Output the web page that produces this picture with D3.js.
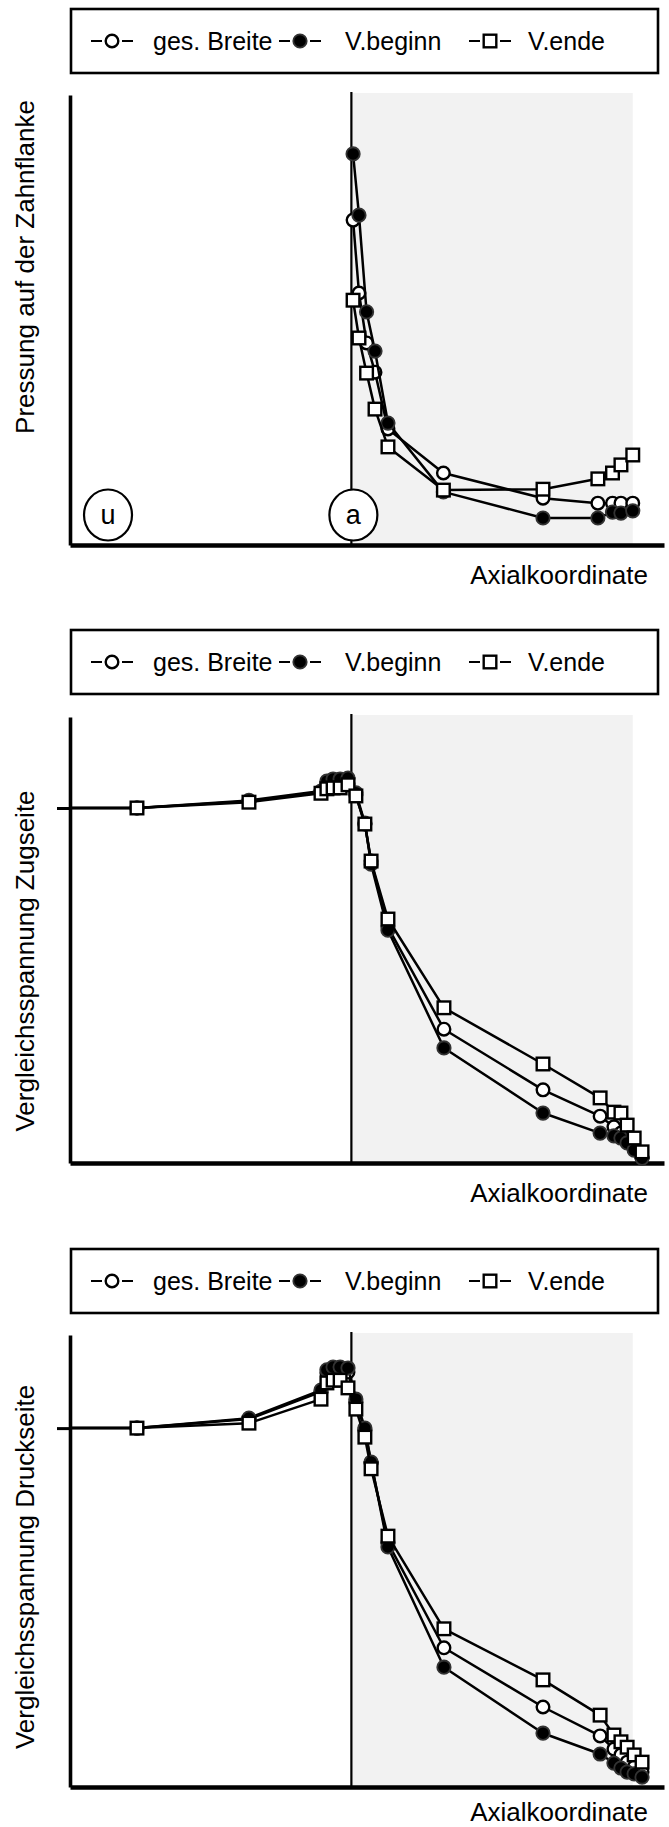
<!DOCTYPE html>
<html>
<head>
<meta charset="utf-8">
<script src="https://cdn.jsdelivr.net/npm/d3@7/dist/d3.min.js"></script>
<style>
  html, body { margin: 0; padding: 0; background: #fff; }
  svg { display: block; font-family: "Liberation Sans", Arial, Helvetica, sans-serif; }
</style>
</head>
<body>
<svg id="chart" width="669" height="1827"></svg>
<script>
// ---- data ---------------------------------------------------------------
const seriesNames = ["ges. Breite", "V.beginn", "V.ende"];
const yTitles = ["Pressung auf der Zahnflanke", "Vergleichsspannung Zugseite", "Vergleichsspannung Druckseite"];
const xTitle = "Axialkoordinate";

// axial coordinate: 0 = start of tooth ("a"), 1 = end of tooth
const axialDomain = [-1, 1.111];
const toothRange = [0, 1];
const markerU = -0.872;   // position of the "u" label
const markerA = 0;        // position of the "a" label

// contact pressure, nodes along the tooth width
const pressNodes = [0.006, 0.027, 0.054, 0.084, 0.13, 0.327, 0.681, 0.876, 0.928, 0.958, 1.0];
const pressGes    = [72.2, 56.0, 44.9, 38.4, 25.8, 16.0, 10.4, 9.3, 9.3, 9.3, 9.3];
const pressBeginn = [86.9, 73.3, 51.8, 43.1, 27.1, 11.8, 6.0, 6.0, 7.3, 7.1, 7.6];
const pressEnde   = [54.4, 46.0, 38.2, 30.2, 21.8, 12.2, 12.4, 14.7, 16.0, 17.8, 20.0];

// equivalent stress nodes (first node sits on the axis, no marker there)
const stressNodes = [-1, -0.762, -0.364, -0.108, -0.087, -0.065, -0.040, -0.012, 0.016, 0.048, 0.070,
                     0.130, 0.329, 0.681, 0.884, 0.933, 0.958, 0.980, 1.005, 1.033];
const zugGes    = [79.6, 79.6, 81.1, 83.2, 85.0, 85.3, 85.3, 85.0, 82.5, 76.0, 67.7, 52.9, 30.0, 16.4, 10.5, 8.1, 6.7, 5.2, 3.4, 1.3];
const zugBeginn = [79.6, 79.6, 81.3, 83.4, 85.6, 86.1, 86.1, 86.3, 83.0, 76.2, 67.0, 52.2, 25.8, 11.2, 6.7, 6.1, 5.6, 4.5, 2.9, 1.1];
const zugEnde   = [79.6, 79.6, 80.9, 82.9, 83.9, 84.1, 84.1, 84.8, 82.3, 76.0, 67.7, 54.7, 34.8, 22.2, 14.6, 11.4, 11.2, 8.5, 5.6, 2.5];

const druckGes    = [79.4, 79.4, 81.4, 87.4, 91.6, 92.3, 92.3, 91.8, 85.2, 79.0, 71.7, 54.0, 30.8, 17.7, 11.3, 8.4, 7.1, 5.5, 4.4, 3.3];
const druckBeginn = [79.4, 79.4, 81.6, 87.8, 92.3, 92.9, 92.9, 92.7, 85.8, 79.4, 71.9, 53.1, 26.5, 11.9, 7.3, 5.3, 4.2, 3.3, 2.9, 2.2];
const druckEnde   = [79.4, 79.4, 80.5, 85.8, 89.4, 90.0, 90.0, 88.3, 83.6, 77.4, 70.4, 55.5, 35.0, 23.7, 15.9, 11.5, 10.0, 8.8, 7.1, 5.5];

// nominal stress level marked on the stress axes
const zugRef = 79.6;
const druckRef = 79.4;

// ---- layout -------------------------------------------------------------
const plotLeft = 70, plotRight = 664;
const panelDefs = [
  { legendTop: 9,    top: 95,   bottom: 545,  titleY: 267,  xTitleY: 584,
    title: yTitles[0], nodes: pressNodes, values: [pressGes, pressBeginn, pressEnde], ref: null, labels: true },
  { legendTop: 630,  top: 717,  bottom: 1163, titleY: 961,  xTitleY: 1202,
    title: yTitles[1], nodes: stressNodes, values: [zugGes, zugBeginn, zugEnde], ref: zugRef, labels: false },
  { legendTop: 1249, top: 1335, bottom: 1787, titleY: 1567, xTitleY: 1821,
    title: yTitles[2], nodes: stressNodes, values: [druckGes, druckBeginn, druckEnde], ref: druckRef, labels: false }
];

const svg = d3.select("#chart");
const x = d3.scaleLinear().domain(axialDomain).range([plotLeft, plotRight]);

const markerR = 6.3, squareS = 12.6;

function drawMarker(sel, kind, cx, cy) {
  if (kind === 2) {
    sel.append("rect")
      .attr("x", cx - squareS / 2).attr("y", cy - squareS / 2)
      .attr("width", squareS).attr("height", squareS)
      .attr("fill", "#fff").attr("stroke", "#000").attr("stroke-width", 2.4);
  } else if (kind === 1) {
    sel.append("circle").attr("cx", cx).attr("cy", cy).attr("r", markerR + 0.4)
      .attr("fill", "#000").attr("stroke", "#333").attr("stroke-width", 1.8);
  } else {
    sel.append("circle").attr("cx", cx).attr("cy", cy).attr("r", markerR)
      .attr("fill", "#fff").attr("stroke", "#000").attr("stroke-width", 2.4);
  }
}

// legend item layout
const legendSymX = [112, 300, 490];
const legendTextX = [153, 345, 528];

panelDefs.forEach(p => {
  const g = svg.append("g");
  const y = d3.scaleLinear().domain([0, 100]).range([p.bottom, p.top]);

  // legend
  const lg = g.append("g");
  lg.append("rect")
    .attr("x", 71).attr("y", p.legendTop).attr("width", 587).attr("height", 64)
    .attr("fill", "#fff").attr("stroke", "#000").attr("stroke-width", 2.6);
  const ly = p.legendTop + 32;
  seriesNames.forEach((name, i) => {
    lg.append("line")
      .attr("x1", legendSymX[i] - 21).attr("x2", legendSymX[i] + 21)
      .attr("y1", ly).attr("y2", ly)
      .attr("stroke", "#000").attr("stroke-width", 2.2);
    // white gap around the marker
    lg.append("rect").attr("x", legendSymX[i] - 10).attr("y", ly - 3)
      .attr("width", 20).attr("height", 6).attr("fill", "#fff");
    drawMarker(lg, i, legendSymX[i], ly);
    lg.append("text")
      .attr("x", legendTextX[i]).attr("y", ly + 9)
      .attr("font-size", 25).attr("fill", "#000")
      .text(name);
  });

  // tooth region
  g.append("rect")
    .attr("x", x(toothRange[0])).attr("y", p.top - 2)
    .attr("width", x(toothRange[1]) - x(toothRange[0]))
    .attr("height", p.bottom - p.top + 2)
    .attr("fill", "#f2f2f2");
  g.append("line")
    .attr("x1", x(markerA)).attr("x2", x(markerA))
    .attr("y1", p.top - 3).attr("y2", p.bottom)
    .attr("stroke", "#000").attr("stroke-width", 2.2);

  // axes
  const yAxis = d3.axisLeft(y)
    .tickValues(p.ref === null ? [] : [p.ref])
    .tickSizeInner(13).tickSizeOuter(0)
    .tickFormat("");
  const ya = g.append("g").attr("transform", `translate(${plotLeft},0)`).call(yAxis);
  ya.select(".domain").attr("stroke", "#000").attr("stroke-width", 3.6);
  ya.selectAll(".tick line").attr("stroke", "#000").attr("stroke-width", 3);

  const xAxis = d3.axisBottom(x).tickValues([]).tickSizeOuter(0);
  const xa = g.append("g").attr("transform", `translate(0,${p.bottom})`).call(xAxis);
  xa.select(".domain").attr("stroke", "#000").attr("stroke-width", 4.5);

  // series: lines then markers
  const line = d3.line().x(d => x(d[0])).y(d => y(d[1]));
  p.values.forEach((vals, i) => {
    const pts = p.nodes.map((n, k) => [n, vals[k]]);
    g.append("path").datum(pts)
      .attr("d", line).attr("fill", "none")
      .attr("stroke", "#000").attr("stroke-width", 2.5)
      .attr("stroke-linejoin", "round");
    const mg = g.append("g");
    pts.filter(d => d[0] > axialDomain[0]).forEach(d => drawMarker(mg, i, x(d[0]), y(d[1])));
  });

  // position labels
  if (p.labels) {
    [["u", markerU], ["a", markerA]].forEach(([t, pos]) => {
      const cy = p.bottom - 30;
      g.append("ellipse").attr("cx", x(pos) + 2).attr("cy", cy).attr("rx", 24).attr("ry", 25.5)
        .attr("fill", "#fff").attr("stroke", "#000").attr("stroke-width", 2.2);
      g.append("text").attr("x", x(pos) + 2).attr("y", cy + 9)
        .attr("text-anchor", "middle").attr("font-size", 27).text(t);
    });
  }

  // axis titles
  g.append("text")
    .attr("transform", `translate(34,${p.titleY}) rotate(-90)`)
    .attr("text-anchor", "middle").attr("font-size", 26).attr("fill", "#000")
    .text(p.title);
  g.append("text")
    .attr("x", 648).attr("y", p.xTitleY)
    .attr("text-anchor", "end").attr("font-size", 26).attr("fill", "#000")
    .text(xTitle);
});
</script>
</body>
</html>
